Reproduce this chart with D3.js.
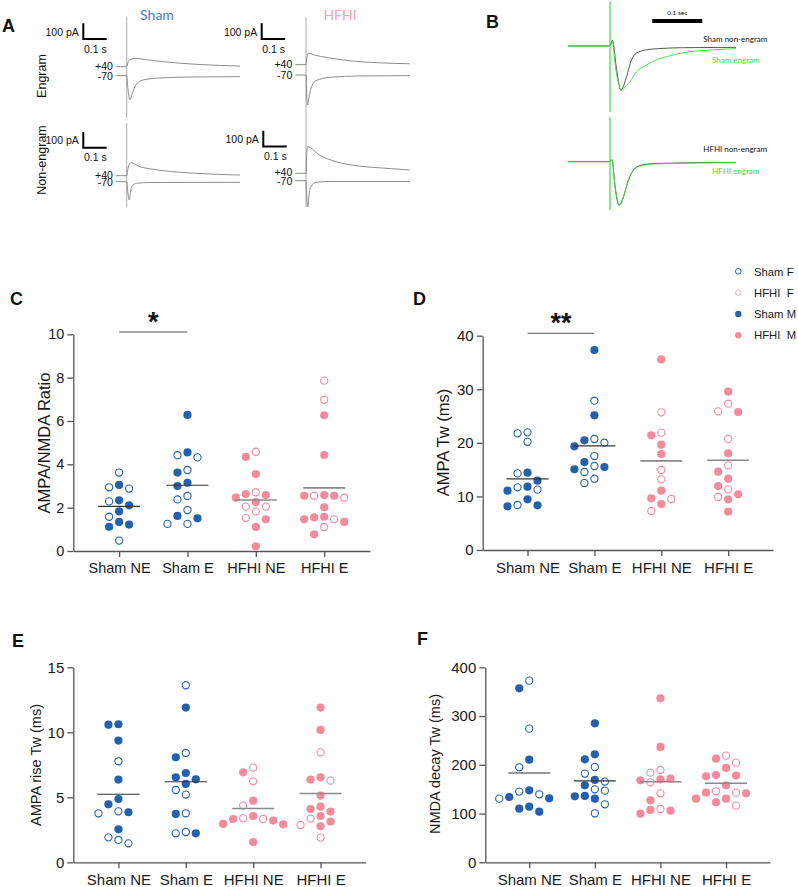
<!DOCTYPE html>
<html>
<head>
<meta charset="utf-8">
<script src="https://cdn.jsdelivr.net/npm/d3@7"></script>
<style>
  body { margin: 0; background: #fff; }
  svg { display: block; font-family: "Liberation Sans", Arial, sans-serif; }
  .lato { font-family: Lato, "Open Sans", sans-serif; }
</style>
</head>
<body>
<div id="figure"></div>
<script>
'use strict';

// ---- scatter data ----
const groups = ["Sham NE", "Sham E", "HFHI NE", "HFHI E"];

const ratioF = [
  [2.88, 3.62, 2.94, 2.29, 1.58, 0.48],
  [4.42, 4.32, 3.74, 2.38, 2.54, 1.89, 1.25, 1.25],
  [4.58, 2.71, 2.05, 2.05, 1.83, 1.52],
  [7.86, 6.98, 2.46, 2.55, 1.46, 1.11]
];
const ratioM = [
  [3.05, 2.34, 2.11, 1.83, 1.34, 1.12, 1.22],
  [6.28, 4.55, 3.62, 3.15, 3.00, 1.62, 1.51],
  [4.34, 3.55, 2.46, 2.63, 2.58, 2.26, 1.46, 1.11, 0.22],
  [6.26, 4.43, 2.55, 2.55, 2.58, 2.02, 1.58, 1.34, 1.55, 1.46, 0.77]
];
const ratioTicks = [0, 2, 4, 6, 8, 10];

const tauF = [
  [21.96, 21.77, 20.2, 14.3, 11.7, 11.26, 8.4],
  [27.87, 20.72, 20.03, 17.54, 15.68, 14.56, 13.31, 12.5],
  [25.69, 21.9, 14.93, 13.19, 9.52, 7.28],
  [27.31, 25.88, 20.72, 15.8, 11.32, 9.89]
];
const tauM = [
  [14.43, 12.94, 11.07, 11.82, 9.46, 8.15, 8.34],
  [37.33, 25.13, 20.47, 19.35, 16.42, 15.49, 15.05],
  [35.58, 21.4, 19.66, 17.92, 11.07, 9.64, 8.58],
  [29.55, 25.75, 18.04, 14.62, 13.31, 10.39, 11.94, 9.46, 7.15]
];
const tauTicks = [0, 10, 20, 30, 40];

const riseF = [
  [7.77, 3.77, 3.92, 1.92, 1.72, 1.46],
  [13.62, 8.41, 5.56, 5.21, 3.77, 2.23, 2.33],
  [7.28, 6.23, 4.36, 3.38, 3.33],
  [8.46, 6.28, 3.36, 2.87, 1.9]
];
const riseM = [
  [10.59, 10.62, 9.36, 6.36, 4.87, 4.46, 3.85, 2.54],
  [11.9, 8.08, 6.87, 6.54, 6.38, 6.03, 3.72, 2.23],
  [6.92, 4.74, 3.21, 3.33, 3.56, 2.92, 2.95, 1.56],
  [11.9, 10.18, 6.36, 6.54, 5.13, 4.1, 3.9, 4.28, 3.56, 3.13, 2.77]
];
const riseTicks = [0, 5, 10, 15];

const nmdaF = [
  [372.6, 274.2, 194.9, 145, 139.5, 130.6],
  [195.6, 181.9, 165.5, 149.7, 147, 119, 100.5],
  [189.4, 183.9, 164.1, 141.5, 109.4],
  [218.8, 204.4, 145.6, 142.9, 116.2]
];
const nmdaM = [
  [356.9, 210.6, 147.7, 134, 131.3, 114.2, 110.1, 103.9],
  [285.1, 221.5, 211.3, 168.9, 157.9, 135.4, 136.1, 130.6],
  [336.4, 236.6, 170.3, 171.6, 168.2, 127.2, 106, 107.4, 99.8],
  [212.6, 193.5, 179.1, 176.4, 177.8, 157.9, 141.5, 142.9, 130.6, 130.6, 123.1]
];
const nmdaTicks = [0, 100, 200, 300, 400];

const legendLabels = ["Sham F", "HFHI  F", "Sham M", "HFHI  M"];

// ---- example traces, [ms, pA] ----
const shamEngram40 = [[-46, 0], [0, 0], [5, 25], [15, 45], [40, 53], [80, 45], [156, 32], [230, 22], [299, 15], [400, 8], [484, 4]];
const shamEngram70 = [[-46, 0], [0, 0], [5, -80], [14, -155], [22, -120], [35, -70], [50, -42], [71, -27], [110, -18], [156, -13], [300, -8], [484, -6]];
const hfhiEngram40 = [[-46, 0], [0, 0], [4, 50], [10, 73], [40, 60], [85, 47], [185, 25], [300, 13], [444, 6]];
const hfhiEngram70 = [[-46, 0], [0, 0], [3, -120], [7, -191], [12, -150], [21, -85], [43, -36], [100, -15], [230, -6], [444, -4]];
const shamNonEngram40 = [[-46, 0], [0, 0], [6, 50], [18, 83], [57, 57], [100, 44], [156, 32], [300, 15], [484, 4]];
const shamNonEngram70 = [[-46, 0], [0, 0], [5, -70], [11, -117], [16, -70], [21, -32], [43, -10], [100, -5], [484, -4]];
const hfhiNonEngram40 = [[-46, 0], [0, 0], [3, 120], [7, 169], [57, 117], [128, 74], [228, 46], [342, 32], [444, 21]];
const hfhiNonEngram70 = [[-46, 0], [0, 0], [3, -100], [8, -168], [13, -90], [21, -38], [43, -10], [100, -5], [444, -5]];

// ---- normalised AMPA currents for B, [ms, fraction of peak] ----
const bShamNE = [[-84, 0], [0, 0], [4.6, 0.13], [6.6, 0.07], [12, -0.43], [17, -0.8], [21.4, -0.99], [24, -0.97], [33, -0.69], [43, -0.31], [53, -0.16], [80, -0.074], [147, -0.038], [252, -0.03]];
const bShamE = [[-84, 0], [0, 0], [5, 0.1], [10, -0.4], [16, -0.8], [23.4, -1.0], [33, -0.88], [40, -0.8], [53, -0.58], [73, -0.43], [93, -0.31], [120, -0.22], [147, -0.15], [200, -0.09], [252, -0.06]];
const bHfhiNE = [[-84, 0], [0, 0], [4, 0.05], [10, -0.57], [18, -1.0], [27, -0.8], [37, -0.42], [47, -0.19], [60, -0.09], [93, -0.04], [252, -0.015]];
const bHfhiE = [[-84, 0], [0, 0], [4, 0.03], [10, -0.55], [19, -1.0], [28, -0.78], [37, -0.40], [47, -0.2], [60, -0.1], [93, -0.05], [252, -0.02]];

const blue = "#2561ab";
const pink = "#f48a9e";
const green = "#3ddc3d";

const svg = d3.select("div#figure")
  .append("svg")
  .attr("width", 798)
  .attr("height", 887)
  .attr("viewBox", [0, 0, 798, 887]);

svg.append("rect").attr("width", 798).attr("height", 887).attr("fill", "#fff");

function letter(txt, x, y) {
  svg.append("text")
    .attr("x", x).attr("y", y)
    .attr("font-size", 18).attr("font-weight", "bold")
    .attr("fill", "#111")
    .text(txt);
}

// ================= panel A =================
letter("A", 2, 32);
svg.append("text").attr("class", "lato").attr("x", 157).attr("y", 20)
  .attr("text-anchor", "middle").attr("font-size", 14).attr("fill", "#4a80cf").text("Sham");
svg.append("text").attr("class", "lato").attr("x", 340).attr("y", 20)
  .attr("text-anchor", "middle").attr("font-size", 14).attr("fill", "#f7a3ba").text("HFHI");

[["Engram", 76], ["Non-engram", 160]].forEach(([t, cy]) => {
  svg.append("text")
    .attr("transform", `translate(46, ${cy}) rotate(-90)`)
    .attr("text-anchor", "middle").attr("font-size", 12.5).attr("fill", "#111")
    .text(t);
});

// stimulus lines
[[126.7, 17, 118], [126.7, 123, 207], [306, 17, 207]].forEach(([lx, y0, y1]) => {
  svg.append("line").attr("x1", lx).attr("x2", lx).attr("y1", y0).attr("y2", y1)
    .attr("stroke", "#aaa").attr("stroke-width", 1);
});

const aSets = [
  { stimX: 126.7, base40: 66.7, base70: 75.7, bar: [83.3, 39], t40: shamEngram40, t70: shamEngram70 },
  { stimX: 306, base40: 64.7, base70: 75, bar: [261.7, 39], t40: hfhiEngram40, t70: hfhiEngram70 },
  { stimX: 126.7, base40: 175.7, base70: 181.7, bar: [83.3, 147.7], t40: shamNonEngram40, t70: shamNonEngram70 },
  { stimX: 306, base40: 173.3, base70: 180.7, bar: [263.3, 146.5], t40: hfhiNonEngram40, t70: hfhiNonEngram70 }
];

aSets.forEach(s => {
  const x = d3.scaleLinear().domain([0, 100]).range([s.stimX, s.stimX + 23.4]);
  const ys = [s.base40, s.base70].map(b => d3.scaleLinear().domain([0, 100]).range([b, b - 15.7]));
  [s.t40, s.t70].forEach((tr, i) => {
    const line = d3.line().curve(d3.curveMonotoneX).x(d => x(d[0])).y(d => ys[i](d[1]));
    svg.append("path").datum(tr)
      .attr("fill", "none").attr("stroke", "#808080").attr("stroke-width", 0.9)
      .attr("d", line);
  });
  const x0 = x(s.t40[0][0]);
  svg.append("text").attr("x", x0 - 3).attr("y", s.base40 + 3)
    .attr("text-anchor", "end").attr("font-size", 10.5).attr("fill", "#111").text("+40");
  svg.append("text").attr("x", x0 - 3).attr("y", s.base70 + 4)
    .attr("text-anchor", "end").attr("font-size", 10.5).attr("fill", "#111").text("-70");

  // scale bar: 100 pA / 0.1 s
  const [bx, by] = s.bar;
  const hLen = x(100) - x(0);
  const vLen = ys[0](0) - ys[0](100);
  svg.append("path")
    .attr("d", `M${bx},${by - vLen}V${by}H${bx + hLen}`)
    .attr("fill", "none").attr("stroke", "#000").attr("stroke-width", 2);
  svg.append("text").attr("x", bx - 4.5).attr("y", by - 3.3)
    .attr("text-anchor", "end").attr("font-size", 10.5).attr("fill", "#111").text("100 pA");
  svg.append("text").attr("x", bx + 12).attr("y", by + 13.7)
    .attr("text-anchor", "middle").attr("font-size", 10.5).attr("fill", "#111").text("0.1 s");
});

// ================= panel B =================
letter("B", 486, 28);
const bx = d3.scaleLinear().domain([0, 100]).range([610, 660]);

svg.append("line").attr("x1", 652.3).attr("x2", 652.3 + bx(100) - bx(0))
  .attr("y1", 21).attr("y2", 21).attr("stroke", "#000").attr("stroke-width", 4);
svg.append("text").attr("class", "lato").attr("x", 677.3).attr("y", 15)
  .attr("text-anchor", "middle").attr("font-size", 6.5).attr("fill", "#111").text("0.1 sec");

const bSets = [
  { base: 46, depth: 44.5, ne: bShamNE, e: bShamE, art: [1.0, -1.48],
    labNE: [703.3, 41.7, "Sham non-engram"], labE: [712, 63.3, "Sham engram"] },
  { base: 161.7, depth: 43.5, ne: bHfhiNE, e: bHfhiE, art: [1.03, -1.11],
    labNE: [703.3, 152.3, "HFHI non-engram"], labE: [712, 174, "HFHI engram"] }
];

bSets.forEach(s => {
  const y = d3.scaleLinear().domain([-1, 0]).range([s.base + s.depth, s.base]);
  const line = d3.line().curve(d3.curveMonotoneX).x(d => bx(d[0])).y(d => y(d[1]));
  svg.append("path").datum(s.ne)
    .attr("fill", "none").attr("stroke", "#444").attr("stroke-width", 0.9).attr("d", line);
  svg.append("path").datum(s.e)
    .attr("fill", "none").attr("stroke", green).attr("stroke-width", 0.9).attr("d", line);
  svg.append("line").attr("x1", bx(0)).attr("x2", bx(0))
    .attr("y1", y(s.art[0])).attr("y2", y(s.art[1]))
    .attr("stroke", green).attr("stroke-width", 1.2);
  svg.append("text").attr("class", "lato").attr("x", s.labNE[0]).attr("y", s.labNE[1])
    .attr("font-size", 8).attr("fill", "#111").text(s.labNE[2]);
  svg.append("text").attr("class", "lato").attr("x", s.labE[0]).attr("y", s.labE[1])
    .attr("font-size", 8).attr("fill", green).text(s.labE[2]);
});

// ================= scatter panels =================
const step = 10;
const minDy = 9;

function drawScatter(p) {
  const x = d3.scalePoint().domain(groups).range([p.left, p.right]).padding(0.67);
  const y = d3.scaleLinear().domain([0, d3.max(p.ticks)]).range([p.bottom, p.top]);
  const g = svg.append("g");

  g.append("g")
    .attr("transform", `translate(${p.left},0)`)
    .call(d3.axisLeft(y).tickValues(p.ticks).tickSize(6).tickSizeOuter(0).tickPadding(3));
  g.append("g")
    .attr("transform", `translate(0,${p.bottom})`)
    .call(d3.axisBottom(x).tickSize(6).tickSizeOuter(0).tickPadding(6));

  g.selectAll(".domain, .tick line").attr("stroke", "#555").attr("stroke-width", 1.3);
  g.selectAll(".tick text").attr("fill", "#1a1a1a").attr("font-size", p.tickFont)
    .attr("font-family", "'Liberation Sans', Arial, sans-serif");

  g.append("text")
    .attr("transform", `translate(${p.labelX},${p.labelY}) rotate(-90)`)
    .attr("text-anchor", "middle").attr("font-size", p.labelFont).attr("fill", "#1a1a1a")
    .text(p.label);

  groups.forEach((grp, i) => {
    const pts = p.fem[i].map(v => ({ v, sex: "F" }))
      .concat(p.male[i].map(v => ({ v, sex: "M" })));
    pts.sort((a, b) => b.v - a.v);
    const cols = new Map();
    pts.forEach(d => {
      d.py = y(d.v);
      for (const k of [0, -1, 1, -2, 2, -3, 3, -4, 4]) {
        const used = cols.get(k) || [];
        if (!used.some(q => Math.abs(q - d.py) < minDy)) {
          d.k = k;
          cols.set(k, used.concat(d.py));
          break;
        }
      }
    });
    const color = i < 2 ? blue : pink;
    g.append("g").selectAll("circle")
      .data(pts)
      .join("circle")
      .attr("cx", d => x(grp) + d.k * step)
      .attr("cy", d => d.py)
      .attr("r", d => d.sex === "F" ? 3.6 : 4.1)
      .attr("fill", d => d.sex === "F" ? "none" : color)
      .attr("stroke", d => d.sex === "F" ? color : "none")
      .attr("stroke-width", 1.1);

    const m = d3.mean(pts, d => d.v);
    g.append("line")
      .attr("x1", x(grp) - 21).attr("x2", x(grp) + 21)
      .attr("y1", y(m)).attr("y2", y(m))
      .attr("stroke", i < 2 ? "#333" : "#8a8a8a")
      .attr("stroke-width", i < 2 ? 1.1 : 1.6);
  });

  if (p.sig) {
    const [a, b, yy, txt, ty] = p.sig;
    g.append("line").attr("x1", x(a)).attr("x2", x(b)).attr("y1", yy).attr("y2", yy)
      .attr("stroke", "#555").attr("stroke-width", 1.1);
    g.append("text").attr("x", (x(a) + x(b)) / 2).attr("y", ty)
      .attr("text-anchor", "middle").attr("font-size", 27).attr("font-weight", "bold")
      .attr("fill", "#111").text(txt);
  }
}

letter("C", 10, 305);
drawScatter({ left: 73.3, right: 370, top: 334.3, bottom: 551, ticks: ratioTicks,
  fem: ratioF, male: ratioM, label: "AMPA/NMDA Ratio", labelX: 49.5, labelY: 443,
  labelFont: 16.5, tickFont: 14.5, sig: ["Sham NE", "Sham E", 332, "*", 331] });

letter("D", 413, 305);
drawScatter({ left: 482.7, right: 773, top: 335.7, bottom: 550, ticks: tauTicks,
  fem: tauF, male: tauM, label: "AMPA Tw (ms)", labelX: 449, labelY: 442.5,
  labelFont: 16.5, tickFont: 15, sig: ["Sham NE", "Sham E", 333.3, "**", 332] });

letter("E", 12, 647);
drawScatter({ left: 73.3, right: 365.7, top: 667.3, bottom: 862.3, ticks: riseTicks,
  fem: riseF, male: riseM, label: "AMPA rise Tw (ms)", labelX: 40.5, labelY: 765,
  labelFont: 14.5, tickFont: 15 });

letter("F", 417, 645);
drawScatter({ left: 485.3, right: 770, top: 667.3, bottom: 862.3, ticks: nmdaTicks,
  fem: nmdaF, male: nmdaM, label: "NMDA decay Tw (ms)", labelX: 439.5, labelY: 764,
  labelFont: 14.5, tickFont: 15 });

// legend
const legend = svg.append("g");
legend.selectAll("circle")
  .data(legendLabels)
  .join("circle")
  .attr("cx", 738.3)
  .attr("cy", (d, i) => 271.3 + i * 21.3)
  .attr("r", (d, i) => i < 2 ? 2.8 : 3.2)
  .attr("fill", (d, i) => i < 2 ? "none" : (i === 2 ? blue : pink))
  .attr("stroke", (d, i) => i < 2 ? (i === 0 ? blue : "#f7a9b8") : "none")
  .attr("stroke-width", 1);
legend.selectAll("text")
  .data(legendLabels)
  .join("text")
  .attr("x", 754)
  .attr("y", (d, i) => 271.3 + i * 21.3 + 4.2)
  .attr("font-size", 11.3)
  .attr("fill", "#1a1a1a")
  .style("white-space", "pre")
  .text(d => d);
</script>
</body>
</html>
